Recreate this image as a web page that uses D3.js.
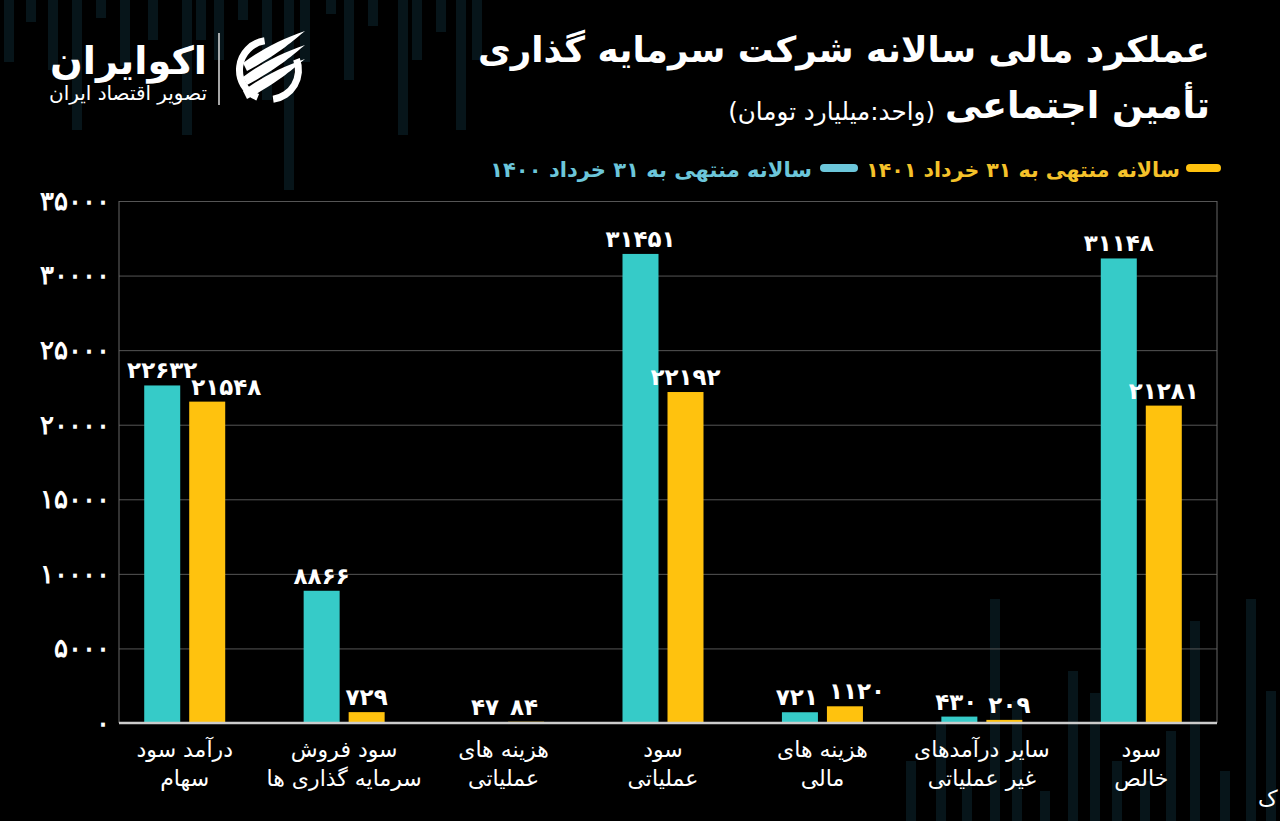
<!DOCTYPE html>
<html>
<head>
<meta charset="utf-8">
<script src="https://cdn.jsdelivr.net/npm/d3@7"></script>
<style>
  html, body { margin: 0; padding: 0; background: #000; }
  svg { display: block; font-family: "DejaVu Sans", sans-serif; }
</style>
</head>
<body>
<div id="chart"></div>
<script>
/**
 * DATA
 * */
const categories = [
  ["درآمد سود", "سهام"],
  ["سود فروش", "سرمایه گذاری ها"],
  ["هزینه های", "عملیاتی"],
  ["سود", "عملیاتی"],
  ["هزینه های", "مالی"],
  ["سایر درآمدهای", "غیر عملیاتی"],
  ["سود", "خالص"]
];
const series = ["1400", "1401"];
const values1400 = [22632, 8866, 47, 31451, 721, 430, 31148];
const values1401 = [21548, 729, 84, 22192, 1120, 209, 21281];
const yTicks = [0, 5000, 10000, 15000, 20000, 25000, 30000, 35000];
const legendLabels = ["سالانه منتهی به ۳۱ خرداد ۱۴۰۱", "سالانه منتهی به ۳۱ خرداد ۱۴۰۰"];
const titleLine1 = "عملکرد مالی سالانه شرکت سرمایه گذاری";
const titleLine2 = "تأمین اجتماعی";
const unitText = "(واحد:میلیارد تومان)";

// faint background stripes (decoration only)
const topStripes = [[4, 62], [26, 22], [48, 70], [72, 130], [96, 18], [120, 66], [148, 40], [182, 135], [196, 40], [214, 60], [238, 20], [262, 100], [284, 190], [300, 62], [326, 14], [344, 80], [368, 26], [398, 135], [412, 60], [436, 32], [456, 130], [472, 60]];
const bottomStripes = [[906, 60], [936, 100], [962, 40], [990, 222], [1012, 120], [1040, 30], [1068, 150], [1090, 128], [1112, 60], [1140, 40], [1166, 90], [1190, 200], [1220, 50], [1246, 222], [1266, 130]];

/**
 * CONSTANTS
 * */
const width = 1280, height = 821;
const plot = { left: 119, right: 1217, top: 201, bottom: 723 };
const teal = "#36cbc8", gold = "#ffc20e";
const fa = s => String(s).replace(/\d/g, d => "۰۱۲۳۴۵۶۷۸۹"[d]);

const svg = d3.select("#chart").append("svg")
  .attr("width", width)
  .attr("height", height);

svg.append("rect").attr("width", width).attr("height", height).attr("fill", "#000");

// background decoration
svg.append("g").selectAll("rect.top")
  .data(topStripes)
  .join("rect")
  .attr("x", d => d[0]).attr("y", 0)
  .attr("width", 10).attr("height", d => d[1])
  .attr("fill", "#07151a");
svg.append("g").selectAll("rect.bot")
  .data(bottomStripes)
  .join("rect")
  .attr("x", d => d[0]).attr("y", d => height - d[1])
  .attr("width", 10).attr("height", d => d[1])
  .attr("fill", "#07151a");

/**
 * SCALES
 * */
const x = d3.scaleBand()
  .domain(d3.range(categories.length))
  .range([105, 1221]);
const xs = d3.scaleBand()
  .domain(series)
  .range([-40.5, 40.5])
  .paddingInner(0.2);
const y = d3.scaleLinear()
  .domain([0, 35000])
  .range([plot.bottom, plot.top]);

// y axis + grid
const yAxis = svg.append("g")
  .attr("transform", `translate(${plot.left},0)`)
  .call(d3.axisLeft(y).tickValues(yTicks).tickFormat(fa)
    .tickSize(-(plot.right - plot.left)).tickPadding(9));
yAxis.select(".domain").remove();
yAxis.selectAll("line").attr("stroke", "#555").attr("stroke-width", 1);
yAxis.selectAll("text")
  .attr("fill", "#fff")
  .attr("font-size", 26)
  .attr("font-weight", "bold");

// frame
svg.append("line").attr("x1", plot.left).attr("x2", plot.left)
  .attr("y1", plot.top).attr("y2", plot.bottom).attr("stroke", "#666");
svg.append("line").attr("x1", plot.right).attr("x2", plot.right)
  .attr("y1", plot.top).attr("y2", plot.bottom).attr("stroke", "#666");

/**
 * BARS
 * */
const rows = categories.map((c, i) => ({ i, v: { "1400": values1400[i], "1401": values1401[i] } }));

const groups = svg.append("g").selectAll("g.cat")
  .data(rows)
  .join("g")
  .attr("class", "cat")
  .attr("transform", d => `translate(${x(d.i) + x.bandwidth() / 2},0)`);

groups.selectAll("rect")
  .data(d => series.map(s => ({ s, v: d.v[s] })))
  .join("rect")
  .attr("x", d => xs(d.s))
  .attr("width", xs.bandwidth())
  .attr("y", d => y(d.v))
  .attr("height", d => y(0) - y(d.v))
  .attr("fill", d => d.s === "1400" ? teal : gold);

// baseline
svg.append("line").attr("x1", plot.left).attr("x2", plot.right)
  .attr("y1", y(0)).attr("y2", y(0))
  .attr("stroke", "#ccc").attr("stroke-width", 2.5);

// value labels: when the two labels of a pair sit at nearly the same height,
// push them apart (gold starts at its bar, small teal ends at its bar)
const crowded = d => Math.abs(y(d.v) - y(d.other)) < 20;
const anchor = d => {
  if (!crowded(d)) return "middle";
  if (d.s === "1401") return "start";
  return d.v < 2000 ? "end" : "middle";
};
groups.selectAll("text.val")
  .data(d => series.map(s => ({ s, v: d.v[s], other: d.v[s === "1400" ? "1401" : "1400"] })))
  .join("text")
  .attr("class", "val")
  .attr("text-anchor", anchor)
  .attr("x", d => {
    const a = anchor(d);
    if (a === "start") return xs(d.s) + 2;
    if (a === "end") return xs(d.s) + xs.bandwidth();
    return xs(d.s) + xs.bandwidth() / 2;
  })
  .attr("y", d => y(d.v) - 7)
  .attr("fill", "#fff")
  .attr("font-size", 23)
  .attr("font-weight", "bold")
  .text(d => fa(d.v));

// category labels
const xl = svg.append("g").selectAll("text.cat")
  .data(categories)
  .join("text")
  .attr("class", "cat")
  .attr("x", (d, i) => x(i) + x.bandwidth() / 2)
  .attr("y", 757)
  .attr("text-anchor", "middle")
  .attr("direction", "rtl")
  .attr("fill", "#fff")
  .attr("font-size", 22);
xl.append("tspan").attr("x", (d, i) => x(i) + x.bandwidth() / 2).text(d => d[0]);
xl.append("tspan").attr("x", (d, i) => x(i) + x.bandwidth() / 2).attr("dy", 29).text(d => d[1]);

/**
 * TITLE + LEGEND
 * */
function fit(sel, w) {
  const len = sel.node().getComputedTextLength();
  const fs = parseFloat(sel.attr("font-size"));
  sel.attr("font-size", fs * w / len);
}

const t1 = svg.append("text")
  .attr("x", 1210).attr("y", 62)
  .attr("text-anchor", "start").attr("direction", "rtl")
  .attr("fill", "#fff").attr("font-size", 34).attr("font-weight", "bold")
  .text(titleLine1);
fit(t1, 732);

const t2 = svg.append("text")
  .attr("x", 1210).attr("y", 118)
  .attr("text-anchor", "start").attr("direction", "rtl")
  .attr("fill", "#fff").attr("font-size", 34).attr("font-weight", "bold")
  .text(titleLine2);
fit(t2, 265);

const u = svg.append("text")
  .attr("x", 935).attr("y", 120)
  .attr("text-anchor", "start").attr("direction", "rtl")
  .attr("fill", "#fff").attr("font-size", 20)
  .text(unitText);
fit(u, 207);

// legend
svg.append("rect").attr("x", 1186).attr("y", 164).attr("width", 35).attr("height", 8)
  .attr("rx", 4).attr("fill", gold);
const l1 = svg.append("text")
  .attr("x", 1180).attr("y", 177)
  .attr("text-anchor", "start").attr("direction", "rtl")
  .attr("fill", "#f5c22a").attr("font-size", 21).attr("font-weight", "bold")
  .text(legendLabels[0]);
fit(l1, 314);
svg.append("rect").attr("x", 820).attr("y", 164).attr("width", 38).attr("height", 8)
  .attr("rx", 4).attr("fill", "#6cc6da");
const l2 = svg.append("text")
  .attr("x", 812).attr("y", 177)
  .attr("text-anchor", "start").attr("direction", "rtl")
  .attr("fill", "#6cc6da").attr("font-size", 21).attr("font-weight", "bold")
  .text(legendLabels[1]);
fit(l2, 322);

/**
 * LOGO
 * */
const logo = svg.append("g");
const lt = logo.append("text")
  .attr("x", 207).attr("y", 74)
  .attr("text-anchor", "start").attr("direction", "rtl")
  .attr("fill", "#fff").attr("font-size", 38).attr("font-weight", "bold")
  .text("اکوایران");
fit(lt, 157);
const ls = logo.append("text")
  .attr("x", 207).attr("y", 100)
  .attr("text-anchor", "start").attr("direction", "rtl")
  .attr("fill", "#fff").attr("font-size", 16)
  .text("تصویر اقتصاد ایران");
fit(ls, 158);
logo.append("line").attr("x1", 219).attr("x2", 219).attr("y1", 33).attr("y2", 105)
  .attr("stroke", "#ddd").attr("stroke-width", 1.5);

// icon: open ring with three diagonal swooshes
const icon = logo.append("g").attr("transform", "translate(269,70)");
const ring = d3.arc().innerRadius(26).outerRadius(33);
icon.append("path").attr("d", ring.startAngle(-2.75).endAngle(-0.15)()).attr("fill", "#fff");
icon.append("path").attr("d", ring.startAngle(1.2).endAngle(3.0)()).attr("fill", "#fff");
[-17, -3, 11].forEach(o => {
  icon.append("path")
    .attr("d", `M-26 ${o + 10} C-10 ${o - 2} 12 ${o - 14} 36 ${o - 22} C24 ${o - 12} 8 ${o + 2} -22 ${o + 18} Z`)
    .attr("fill", "#fff");
});

// text fragment at bottom right
svg.append("text").attr("x", 1258).attr("y", 806)
  .attr("fill", "#fff").attr("font-size", 22).text("ک");
</script>
</body>
</html>
